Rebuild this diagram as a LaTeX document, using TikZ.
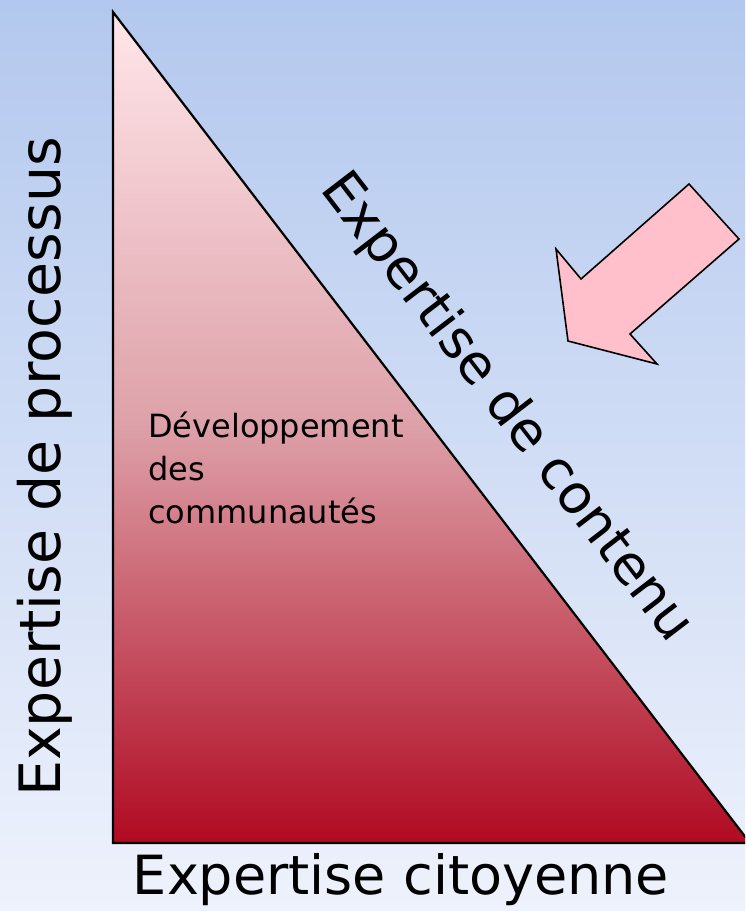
\documentclass[tikz,border=0pt]{standalone}
\usepackage{fontspec}
\setmainfont{DejaVu Sans}
\usepackage{xcolor}
\usetikzlibrary{positioning,calc}
\definecolor{bgtop}{HTML}{B3C8EE}
\definecolor{bgbot}{HTML}{EEF2FC}
\definecolor{tritop}{HTML}{FFE6EA}
\definecolor{trimid}{HTML}{DDA0A8}
\definecolor{tribot}{HTML}{B00A22}
\definecolor{arrowpink}{HTML}{FFBFCB}
\tikzset{
  axislabel/.style={font=\fontsize{54}{60}\selectfont,inner sep=0pt},
  innerlabel/.style={font=\fontsize{32}{43}\selectfont,align=left,anchor=north west,inner sep=0pt}
}
\begin{document}
\begin{tikzpicture}[x=1pt,y=-1pt]
% Background
\shade[top color=bgtop,bottom color=bgbot] (0,0) rectangle (745,911);
\useasboundingbox (0,0) rectangle (745,911);
% Triangle
\coordinate (apex) at (113,12);
\coordinate (corner) at (113,843);
\coordinate (foot) at (750,843);
\begin{scope}
\clip (0,0) rectangle (745,911);
\shade[top color=tritop,bottom color=tribot,middle color=trimid] (apex) -- (corner) -- (foot) -- cycle;
\draw[line width=2.2pt,line join=miter] (apex) -- (corner) -- (foot) -- cycle;
\end{scope}
% Arrow
\draw[fill=arrowpink,line width=1.6pt,line join=miter]
  (689,184) -- (739,239) -- (630,334) -- (657,364) -- (568,341) -- (556,249) -- (581,279) -- cycle;
% Labels
\node[axislabel] (citoyenne) at (401,880) {Expertise citoyenne};
\node[axislabel,rotate=90,font=\fontsize{57}{60}\selectfont] (processus) at (45,467) {Expertise de processus};
\node[axislabel,rotate=-52.5] (contenu) at (506,408) {Expertise de contenu};
\node[innerlabel] (communautes) at (148,412) {Développement\\des\\communautés};
\end{tikzpicture}
\end{document}
